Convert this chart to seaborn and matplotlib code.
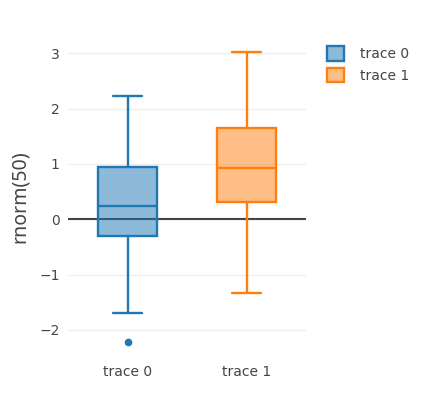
import matplotlib
matplotlib.use('Agg')
import matplotlib.pyplot as plt
import seaborn as sns
from matplotlib.patches import Patch
from matplotlib.colors import to_rgba

# box statistics
traces = ['trace 0', 'trace 1']
whisker_low = [-1.69, -1.33]
q1 = [-0.31, 0.32]
median = [0.24, 0.92]
q3 = [0.95, 1.65]
whisker_high = [2.22, 3.02]
outliers = [[-2.21], []]
colors = ['#1f77b4', '#ff7f0e']

sns.set_theme(style='white')
plt.rcParams['font.family'] = ['DejaVu Sans']

fig = plt.figure(figsize=(4.28, 3.97), dpi=100)
ax = fig.add_axes([0.159, 0.113, 0.556, 0.781])

stats = []
for i, name in enumerate(traces):
    stats.append({'label': name, 'whislo': whisker_low[i], 'q1': q1[i], 'med': median[i],
                  'q3': q3[i], 'whishi': whisker_high[i], 'fliers': outliers[i]})

bp = ax.bxp(stats, positions=range(len(traces)), widths=0.49, capwidths=0.25,
            patch_artist=True, showfliers=True)
for i, c in enumerate(colors):
    bp['boxes'][i].set_facecolor(to_rgba(c, 0.5))
    bp['boxes'][i].set_edgecolor(c)
    bp['boxes'][i].set_linewidth(1.7)
    bp['medians'][i].set_color(c)
    bp['medians'][i].set_linewidth(1.7)
    for ln in bp['whiskers'][2 * i:2 * i + 2] + bp['caps'][2 * i:2 * i + 2]:
        ln.set_color(c)
        ln.set_linewidth(1.7)
    bp['fliers'][i].set_marker('o')
    bp['fliers'][i].set_markerfacecolor(c)
    bp['fliers'][i].set_markeredgecolor(c)
    bp['fliers'][i].set_markersize(4.5)

ax.set_xlim(-0.5, 1.5)
ax.set_ylim(-2.4, 3.2)
ax.set_yticks([-2, -1, 0, 1, 2, 3])
ax.set_yticklabels(['\u22122', '\u22121', '0', '1', '2', '3'])
ax.yaxis.grid(True, color='#eeeeee', linewidth=1)
ax.set_axisbelow(True)
ax.axhline(0, color='#444444', linewidth=1.5, zorder=1.5)
for s in ax.spines.values():
    s.set_visible(False)
ax.tick_params(axis='both', length=0, labelsize=10, labelcolor='#444444')
ax.tick_params(axis='x', pad=9)
ax.tick_params(axis='y', pad=6)
ax.set_ylabel('rnorm(50)', fontsize=14, color='#444444', labelpad=7,
              family=['Noto Sans', 'DejaVu Sans'])

handles = [Patch(facecolor=to_rgba(c, 0.5), edgecolor=c, linewidth=1.7, label=n)
           for n, c in zip(traces, colors)]
fig.legend(handles=handles, loc='upper left', bbox_to_anchor=(0.735, 0.915), frameon=False,
           fontsize=10, labelcolor='#444444', handlelength=1.25, handleheight=1.25,
           handletextpad=1.1, labelspacing=0.45)

fig.savefig('out.png', dpi=100)
